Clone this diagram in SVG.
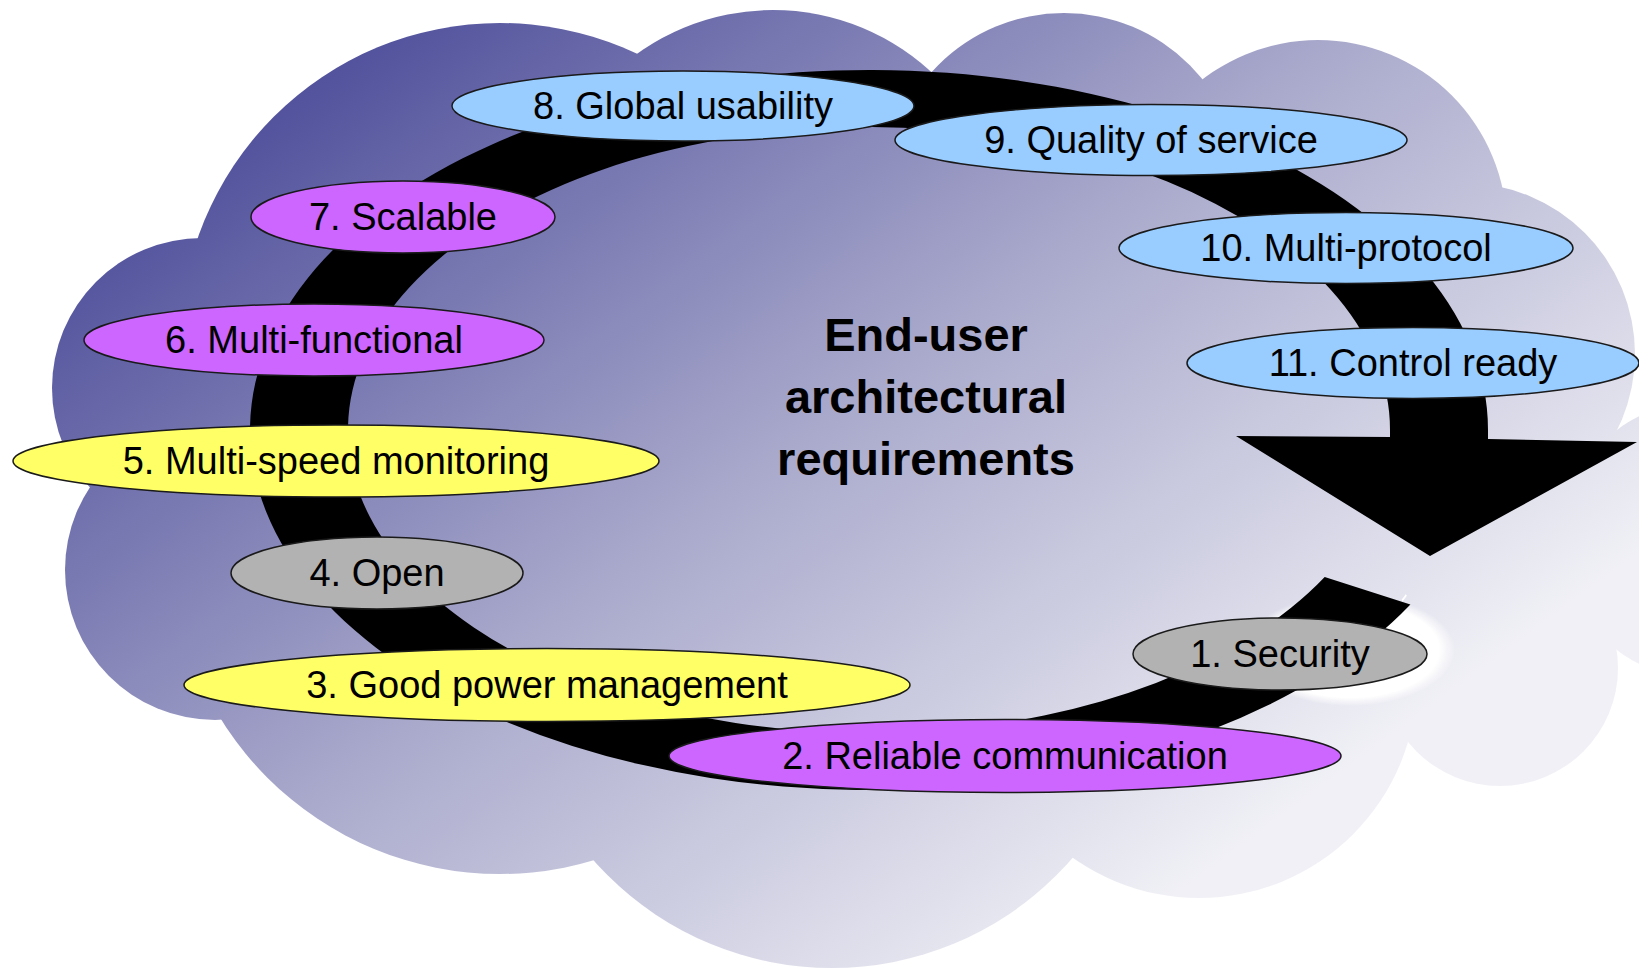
<svg xmlns="http://www.w3.org/2000/svg" width="1639" height="971" viewBox="0 0 1639 971">
  <defs>
    <linearGradient id="cloudGrad" gradientUnits="userSpaceOnUse" x1="400" y1="0" x2="1100" y2="950">
      <stop offset="0" stop-color="#50509c"/>
      <stop offset="0.5" stop-color="#a9a9cc"/>
      <stop offset="1" stop-color="#f0f0f6"/>
    </linearGradient>
    <radialGradient id="glow" cx="0.5" cy="0.5" r="0.5">
      <stop offset="0" stop-color="#ffffff" stop-opacity="1"/>
      <stop offset="0.85" stop-color="#ffffff" stop-opacity="1"/>
      <stop offset="1" stop-color="#ffffff" stop-opacity="0"/>
    </radialGradient>
  </defs>
  <style>
    .cloud { fill: url(#cloudGrad); stroke: none; }
    .node ellipse { stroke: #1a1a1a; stroke-width: 1.5; }
    .blue { fill: #99ccff; }
    .violet { fill: #cc66ff; }
    .yellow { fill: #ffff66; }
    .gray { fill: #b2b2b2; }
    .label { font-family: "Liberation Sans", Arial, sans-serif; font-size: 38px; fill: #000; text-anchor: middle; }
    .title { font-family: "Liberation Sans", Arial, sans-serif; font-size: 47px; font-weight: bold; fill: #000; text-anchor: middle; }
    .band { fill: #000; }
  </style>

  <rect width="1639" height="971" fill="#ffffff"/>

  <g id="cloud" class="cloud">
    <circle cx="500" cy="343" r="320"/>
    <circle cx="773" cy="243" r="233"/>
    <circle cx="1064" cy="191" r="178"/>
    <circle cx="1318" cy="229" r="189"/>
    <circle cx="1464" cy="354" r="171"/>
    <circle cx="1700" cy="540" r="138"/>
    <circle cx="1500" cy="668" r="118"/>
    <circle cx="1500" cy="520" r="120"/>
    <circle cx="1199" cy="680" r="218"/>
    <circle cx="832" cy="650" r="318"/>
    <circle cx="500" cy="545" r="329"/>
    <circle cx="215" cy="570" r="150"/>
    <circle cx="202" cy="388" r="150"/>
    <ellipse cx="850" cy="470" rx="600" ry="330"/>
  </g>

  <ellipse id="glow-spot" cx="1350" cy="650" rx="105" ry="56" fill="url(#glow)"/>

  <g id="connectors">
    <path class="band" d="M1410.4,604.5 A619,360 0 1 1 1488,430 L1488,439 L1637,442 L1430,556 L1236,436 L1390,437 L1390,430 A521,303 0 1 0 1324.7,576.9 Z"/>
  </g>

  <g id="node-8" class="node">
    <ellipse class="blue" cx="683" cy="106" rx="231" ry="35"/>
    <text class="label" x="683" y="119">8. Global usability</text>
  </g>
  <g id="node-9" class="node">
    <ellipse class="blue" cx="1151" cy="140" rx="256" ry="35.5"/>
    <text class="label" x="1151" y="153">9. Quality of service</text>
  </g>
  <g id="node-7" class="node">
    <ellipse class="violet" cx="403" cy="217" rx="152" ry="36"/>
    <text class="label" x="403" y="230">7. Scalable</text>
  </g>
  <g id="node-10" class="node">
    <ellipse class="blue" cx="1346" cy="248" rx="227" ry="35.5"/>
    <text class="label" x="1346" y="261">10. Multi-protocol</text>
  </g>
  <g id="node-6" class="node">
    <ellipse class="violet" cx="314" cy="340" rx="230" ry="36"/>
    <text class="label" x="314" y="353">6. Multi-functional</text>
  </g>
  <g id="node-11" class="node">
    <ellipse class="blue" cx="1413" cy="363" rx="226" ry="35.5"/>
    <text class="label" x="1413" y="376">11. Control ready</text>
  </g>
  <g id="node-5" class="node">
    <ellipse class="yellow" cx="336" cy="461" rx="323" ry="36"/>
    <text class="label" x="336" y="474">5. Multi-speed monitoring</text>
  </g>
  <g id="node-4" class="node">
    <ellipse class="gray" cx="377" cy="573" rx="146" ry="36"/>
    <text class="label" x="377" y="586">4. Open</text>
  </g>
  <g id="node-3" class="node">
    <ellipse class="yellow" cx="547" cy="685" rx="363" ry="36.5"/>
    <text class="label" x="547" y="698">3. Good power management</text>
  </g>
  <g id="node-2" class="node">
    <ellipse class="violet" cx="1005" cy="756" rx="336" ry="36.5"/>
    <text class="label" x="1005" y="769">2. Reliable communication</text>
  </g>
  <g id="node-1" class="node">
    <ellipse class="gray" cx="1280" cy="654" rx="147" ry="36"/>
    <text class="label" x="1280" y="667">1. Security</text>
  </g>

  <g id="title">
    <text class="title" x="926" y="351">End-user</text>
    <text class="title" x="926" y="413">architectural</text>
    <text class="title" x="926" y="475">requirements</text>
  </g>
</svg>
